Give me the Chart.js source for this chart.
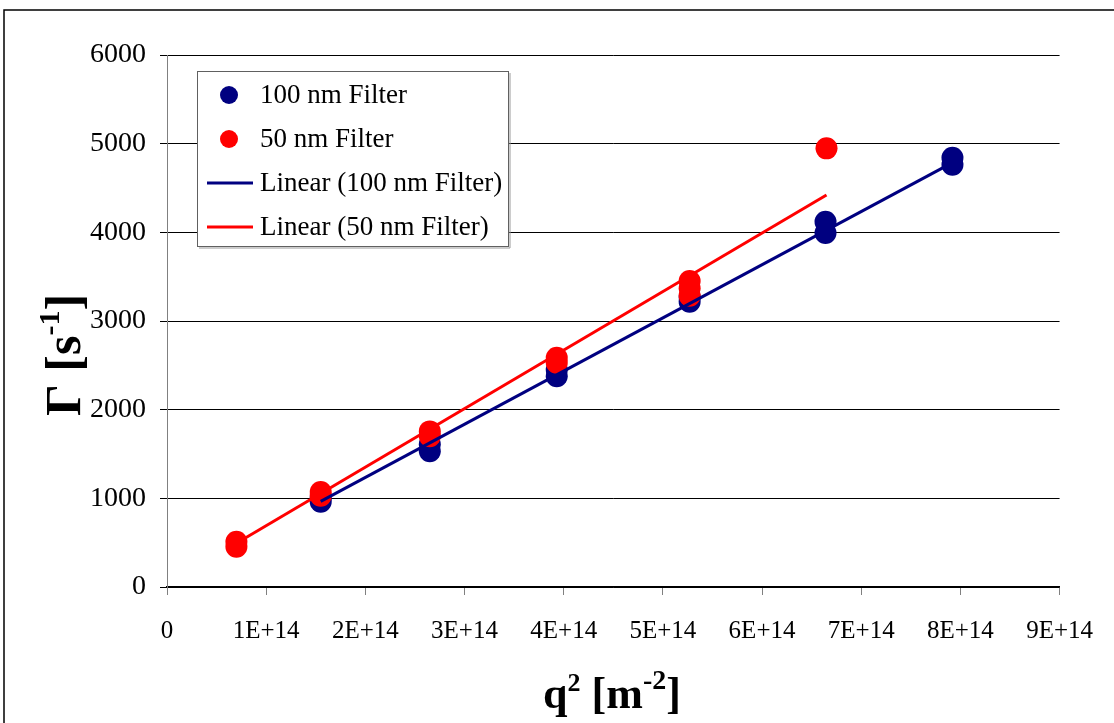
<!DOCTYPE html>
<html>
<head>
<meta charset="utf-8">
<script src="https://cdn.jsdelivr.net/npm/chart.js@4.4.0/dist/chart.umd.min.js"></script>
<style>
  html, body { margin: 0; padding: 0; background: #fff; }
  #wrap { width: 1114px; height: 723px; position: relative; }
</style>
</head>
<body>
<div id="wrap"><canvas id="c" width="1114" height="723"></canvas></div>
<script>
// ---- data (q^2 in units of 1E+14 m^-2, Gamma in s^-1) ----
const seriesLabels = ['100 nm Filter', '50 nm Filter', 'Linear (100 nm Filter)', 'Linear (50 nm Filter)'];
const blueX = [1.55, 1.55, 2.65, 2.65, 3.93, 3.93, 5.27, 5.27, 6.64, 6.64, 7.92, 7.92];
const blueY = [962, 1010, 1530, 1610, 2376, 2450, 3218, 3270, 3992, 4120, 4763, 4842];
const redX  = [0.70, 0.70, 1.55, 1.55, 2.65, 2.65, 3.93, 3.93, 5.27, 5.27, 5.27, 6.65];
const redY  = [454, 511, 1030, 1071, 1700, 1755, 2530, 2586, 3285, 3370, 3451, 4947];
const blueFitX = [1.55, 7.92];
const blueFitY = [965, 4786];
const redFitX  = [0.70, 6.65];
const redFitY  = [493, 4421];
const xTicks = ['0', '1E+14', '2E+14', '3E+14', '4E+14', '5E+14', '6E+14', '7E+14', '8E+14', '9E+14'];
const yTicks = ['0', '1000', '2000', '3000', '4000', '5000', '6000'];

const E14 = 1e14;
const pts = (xs, ys) => xs.map((x, i) => ({ x: x * E14, y: ys[i] }));

const BLUE = '#000080';
const RED = '#FF0000';
const FONT = '"Liberation Serif", "Times New Roman", serif';

// outer frame + axis titles with real superscripts + legend
const decor = {
  id: 'decor',
  afterDraw(chart) {
    const ctx = chart.ctx;
    ctx.save();
    ctx.strokeStyle = '#000';
    ctx.lineWidth = 1.5;
    ctx.strokeRect(4, 10, 1200, 900);

    function runs(list, x, y, align) {
      let total = 0;
      list.forEach(r => { ctx.font = 'bold ' + r[1] + 'px ' + FONT; total += ctx.measureText(r[0]).width; });
      let cx = align === 'center' ? x - total / 2 : x;
      list.forEach(r => {
        ctx.font = 'bold ' + r[1] + 'px ' + FONT;
        ctx.fillText(r[0], cx, y + r[2]);
        cx += ctx.measureText(r[0]).width;
      });
    }
    ctx.fillStyle = '#000';
    ctx.textBaseline = 'alphabetic';
    ctx.textAlign = 'left';
    // x title
    runs([['q', 44, 0], ['2', 26, -17], [' [m', 44, 0], ['-2', 28, -19], [']', 44, 0]], 612, 708, 'center');
    // y title rotated
    ctx.translate(80, 355);
    ctx.rotate(-Math.PI / 2);
    runs([['\u0393 [s', 50, 0], ['-1', 30, -21], [']', 50, 0]], 0, 0, 'center');
    ctx.restore();

    // legend
    const ds = chart.data.datasets;
    ctx.save();
    ctx.fillStyle = '#fff';
    ctx.fillRect(197, 71, 312, 176);
    ctx.strokeStyle = '#606060';
    ctx.lineWidth = 1;
    ctx.strokeRect(197.5, 71.5, 311, 175);
    ctx.strokeStyle = '#999';
    ctx.beginPath(); ctx.moveTo(510, 73); ctx.lineTo(510, 248); ctx.lineTo(199, 248); ctx.stroke();
    const rowY = [95, 139, 183, 227];
    ctx.font = '27px ' + FONT;
    ctx.textBaseline = 'middle';
    ctx.textAlign = 'left';
    ds.forEach((d, i) => {
      const y = rowY[i];
      if (d.showLine) {
        ctx.strokeStyle = d.borderColor;
        ctx.lineWidth = 3;
        ctx.beginPath(); ctx.moveTo(207, y); ctx.lineTo(253, y); ctx.stroke();
      } else {
        ctx.fillStyle = d.backgroundColor;
        ctx.beginPath(); ctx.arc(229, y, 9, 0, Math.PI * 2); ctx.fill();
      }
      ctx.fillStyle = '#000';
      ctx.fillText(d.label, 260, y + 1);
    });
    ctx.restore();
  }
};

new Chart(document.getElementById('c'), {
  type: 'scatter',
  data: {
    datasets: [
      { label: seriesLabels[0], data: pts(blueX, blueY), backgroundColor: BLUE, borderColor: BLUE,
        pointRadius: 11, pointHoverRadius: 11, borderWidth: 0, order: 3 },
      { label: seriesLabels[1], data: pts(redX, redY), backgroundColor: RED, borderColor: RED,
        pointRadius: 11, pointHoverRadius: 11, borderWidth: 0, order: 2 },
      { label: seriesLabels[2], data: pts(blueFitX, blueFitY), showLine: true, borderColor: BLUE,
        backgroundColor: BLUE, borderWidth: 3, pointRadius: 0, order: 1 },
      { label: seriesLabels[3], data: pts(redFitX, redFitY), showLine: true, borderColor: RED,
        backgroundColor: RED, borderWidth: 3, pointRadius: 0, order: 0 }
    ]
  },
  options: {
    responsive: false,
    animation: false,
    events: [],
    layout: { padding: { top: 55, right: 54, left: 0, bottom: 0 } },
    plugins: { legend: { display: false }, tooltip: { enabled: false } },
    scales: {
      x: {
        type: 'linear', min: 0, max: 9 * E14,
        afterBuildTicks(s) { s.ticks = xTicks.map((t, i) => ({ value: i * E14 })); },
        afterFit(s) { s.height = 136; },
        ticks: { callback: (v, i) => xTicks[i], color: '#000', font: { family: FONT, size: 25 }, padding: 21, maxRotation: 0, autoSkip: false },
        grid: { drawOnChartArea: false, drawTicks: true, tickLength: 8, color: '#808080', lineWidth: 1 },
        border: { color: '#000', width: 1.5 }
      },
      y: {
        type: 'linear', min: 0, max: 6000,
        afterBuildTicks(s) { s.ticks = yTicks.map(t => ({ value: Number(t) })); },
        afterFit(s) { s.width = 167; },
        ticks: { callback: (v, i) => yTicks[i], color: '#000', font: { family: FONT, size: 28 }, padding: 14 },
        grid: { color: '#000', lineWidth: 1, drawTicks: true, tickLength: 7 },
        border: { color: '#808080', width: 1 }
      }
    }
  },
  plugins: [decor]
});
</script>
</body>
</html>
